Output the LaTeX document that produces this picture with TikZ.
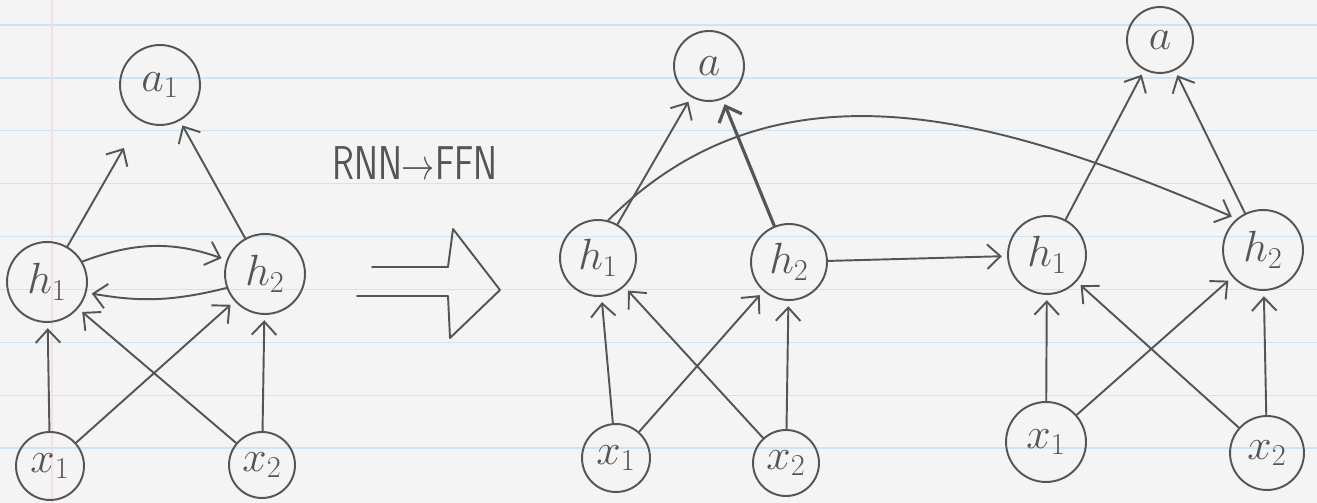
\documentclass[tikz,border=0pt]{standalone}
\usepackage{fontspec}
\usetikzlibrary{arrows.meta}
\definecolor{pencil}{HTML}{555555}
\definecolor{paper}{HTML}{F4F4F4}
\definecolor{ruling}{HTML}{CFE3F0}
\definecolor{marginline}{HTML}{F3DFE4}
\begin{document}
\begin{tikzpicture}[x=0.02cm,y=0.02cm,
  neuron/.style={circle,draw=pencil,line width=1.1pt,minimum size=#1*0.04cm,
    inner sep=0pt,text=pencil,font=\fontsize{25}{25}\selectfont},
  link/.style={draw=pencil,line width=1.1pt,line cap=round,
    -{Straight Barb[length=7.5pt,width=14pt]},shorten >=3pt},
  heavy/.style={line width=1.8pt},
]
% ruled notebook paper
\useasboundingbox (0,0) rectangle (1317,503);
\fill[paper] (0,0) rectangle (1317,503);
\foreach \k in {0,...,8}
  \draw[ruling,line width=0.8pt] (0,{478-52.9*\k}) -- (1317,{478-52.9*\k});
\draw[marginline,line width=0.6pt] (52,0) -- (52,503);

% recurrent network
\node[neuron=40] (Aa)  at (160,418) {$a_1$};
\node[neuron=40] (Ah1) at (47,221)  {$h_1$};
\node[neuron=40] (Ah2) at (265,229) {$h_2$};
\node[neuron=34] (Ax1) at (50,37)   {$x_1$};
\node[neuron=33] (Ax2) at (262,38)  {$x_2$};

\draw[link,shorten >=18pt] (Ah1) -- (Aa);
\draw[link] (Ah2) -- (Aa);
\draw[link] (Ah1.30) to[bend left=20] (Ah2.160);
\draw[link] (Ah2.200) to[bend left=12] (Ah1.-15);
\draw[link] (Ax1) -- (Ah1);
\draw[link] (Ax1) -- (Ah2);
\draw[link] (Ax2) -- (Ah1);
\draw[link] (Ax2) -- (Ah2);

% transformation label and hollow arrow
\node[text=pencil,font=\sffamily\fontsize{27}{27}\selectfont] (title) at (415,340)
  {\scalebox{0.76}[1]{RNN$\rightarrow$FFN}};
\draw[pencil,line width=1.1pt,line join=round,line cap=round]
  (372,236) -- (448,236) -- (453,274) -- (500,213) -- (450,165) -- (448,207) -- (357,207);

% unrolled network, first step
\node[neuron=35] (Ba)  at (709,437) {$a$};
\node[neuron=38] (Bh1) at (598,245) {$h_1$};
\node[neuron=38] (Bh2) at (789,241) {$h_2$};
\node[neuron=34] (Bx1) at (616,45)  {$x_1$};
\node[neuron=33] (Bx2) at (786,40)  {$x_2$};

\draw[link] (Bh1) -- (Ba);
\draw[link,heavy] (Bh2) -- (Ba);
\draw[link] (Bx1) -- (Bh1);
\draw[link] (Bx1) -- (Bh2);
\draw[link] (Bx2) -- (Bh1);
\draw[link] (Bx2) -- (Bh2);

% unrolled network, second step
\node[neuron=33] (Ca)  at (1160,463) {$a$};
\node[neuron=39] (Ch1) at (1047,248) {$h_1$};
\node[neuron=40] (Ch2) at (1263,253) {$h_2$};
\node[neuron=40] (Cx1) at (1046,61)  {$x_1$};
\node[neuron=37] (Cx2) at (1267,50)  {$x_2$};

\draw[link] (Ch1) -- (Ca);
\draw[link] (Ch2) -- (Ca);
\draw[link] (Cx1) -- (Ch1);
\draw[link] (Cx1) -- (Ch2);
\draw[link] (Cx2) -- (Ch1);
\draw[link] (Cx2) -- (Ch2);

% connections between the two steps
\draw[link] (Bh1.75) to[out=45,in=157] (Ch2.130);
\draw[link] (Bh2) -- (Ch1);
\end{tikzpicture}
\end{document}
